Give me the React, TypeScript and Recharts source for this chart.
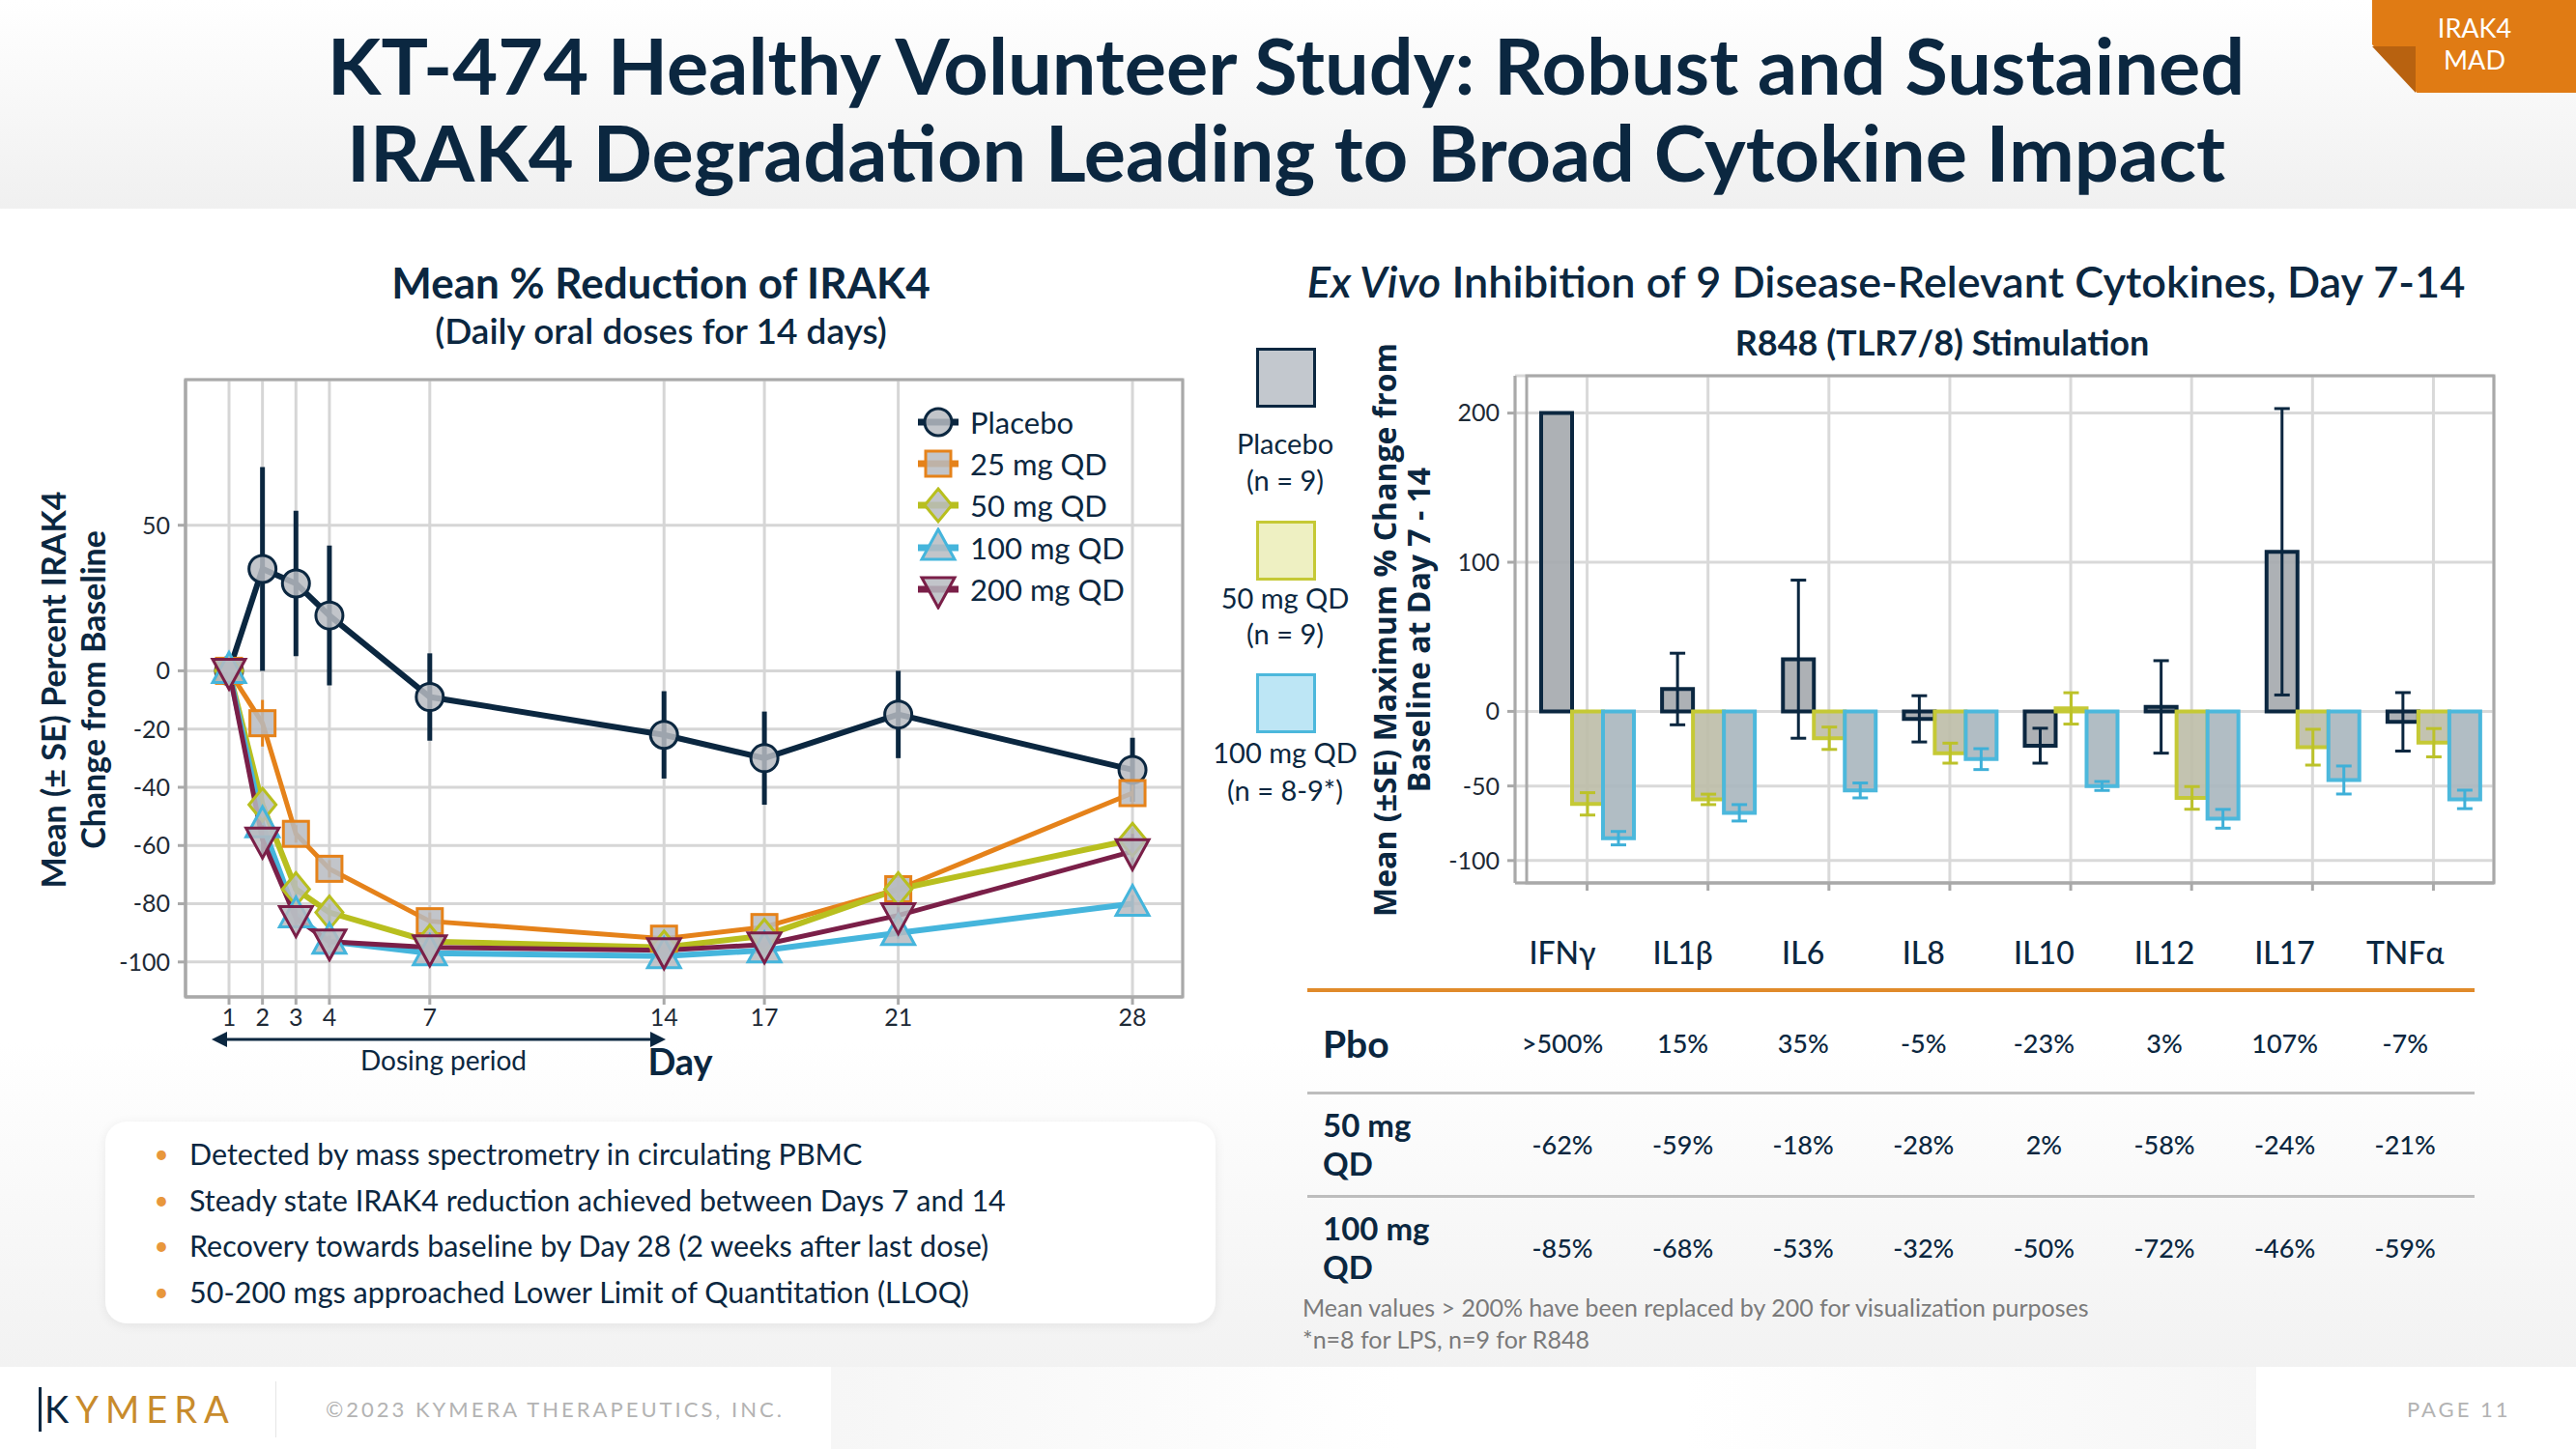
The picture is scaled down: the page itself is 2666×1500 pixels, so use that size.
import React from 'react';
import {
  LineChart,
  Line,
  BarChart,
  Bar,
  XAxis,
  YAxis,
  CartesianGrid,
  ErrorBar,
  ReferenceArea
} from 'recharts';

const NAVY = '#0b2740';
const FONT = 'Lato, "Open Sans", sans-serif';
const MARKER_FILL = '#b7bbc1';

// Left chart: mean % change of IRAK4 by study day
const DAYS = [1, 2, 3, 4, 7, 14, 17, 21, 28];
const PLACEBO = [0, 35, 30, 19, -9, -22, -30, -15, -34];
const PLACEBO_SE = [0, 35, 25, 24, 15, 15, 16, 15, 11];
const MG25 = [0, -18, -56, -68, -86, -92, -88, -75, -42];
const MG25_SE = [0, 8, 3, 3, 3, 2, 3, 3, 4];
const MG50 = [0, -46, -75, -83, -93, -95, -91, -75, -58];
const MG50_SE = [0, 5, 3, 3, 2, 2, 2, 3, 4];
const MG100 = [0, -53, -84, -93, -97, -98, -96, -90, -80];
const MG100_SE = [0, 5, 3, 2, 1, 1, 1, 2, 3];
const MG200 = [0, -58, -85, -93, -95, -96, -94, -84, -62];
const MG200_SE = [0, 5, 3, 2, 2, 1, 2, 3, 6];
const LEFT_Y_TICKS = [50, 0, -20, -40, -60, -80, -100];

// Right chart: max % change of cytokines, day 7-14
const CYTOKINES = ['IFNγ', 'IL1β', 'IL6', 'IL8', 'IL10', 'IL12', 'IL17', 'TNFα'];
const PBO = [200, 15, 35, -5, -23, 3, 107, -7];
const PBO_SE = [0, 24, 53, 15.5, 11.7, 31, 96, 19.6];
const QD50 = [-62, -59, -18, -28, 2, -58, -24, -21];
const QD50_SE = [7.5, 3.5, 7.5, 6.7, 10.5, 7.6, 12, 9.5];
const QD100 = [-85, -68, -53, -32, -50, -72, -46, -59];
const QD100_SE = [4.5, 5.5, 5, 7, 3, 6.3, 9.4, 6.2];
const PBO_LABELS = ['>500%', '15%', '35%', '-5%', '-23%', '3%', '107%', '-7%'];
const RIGHT_Y_TICKS = [200, 100, 0, -50, -100];

const BULLETS = [
  'Detected by mass spectrometry in circulating PBMC',
  'Steady state IRAK4 reduction achieved between Days 7 and 14',
  'Recovery towards baseline by Day 28 (2 weeks after last dose)',
  '50-200 mgs approached Lower Limit of Quantitation (LLOQ)'
];

const SERIES = [
  { key: 'pbo', err: 'pboErr', name: 'Placebo', color: NAVY, shape: 'circle', width: 6, values: PLACEBO, se: PLACEBO_SE },
  { key: 'mg25', err: 'mg25Err', name: '25 mg QD', color: '#e5821a', shape: 'square', width: 5, values: MG25, se: MG25_SE },
  { key: 'mg50', err: 'mg50Err', name: '50 mg QD', color: '#b8bf1f', shape: 'diamond', width: 6, values: MG50, se: MG50_SE },
  { key: 'mg100', err: 'mg100Err', name: '100 mg QD', color: '#45b5dc', shape: 'up', width: 6, values: MG100, se: MG100_SE },
  { key: 'mg200', err: 'mg200Err', name: '200 mg QD', color: '#7a1f48', shape: 'down', width: 5, values: MG200, se: MG200_SE }
];

const lineData = DAYS.map((day, i) => {
  const row: any = { day };
  SERIES.forEach(s => {
    row[s.key] = s.values[i];
    row[s.err] = s.se[i];
  });
  return row;
});

const barData = CYTOKINES.map((name, i) => ({
  name,
  pbo: PBO[i],
  pboErr: PBO_SE[i],
  qd50: QD50[i],
  qd50Err: QD50_SE[i],
  qd100: QD100[i],
  qd100Err: QD100_SE[i]
}));

const Marker = ({ cx, cy, shape, color }: any) => {
  if (cx == null || cy == null) return null;
  const common = { fill: MARKER_FILL, fillOpacity: 0.85, stroke: color, strokeWidth: 3 };
  switch (shape) {
    case 'circle':
      return <circle cx={cx} cy={cy} r={14} {...common} />;
    case 'square':
      return <rect x={cx - 13} y={cy - 13} width={26} height={26} {...common} />;
    case 'diamond':
      return <polygon points={`${cx},${cy - 17} ${cx + 14},${cy} ${cx},${cy + 17} ${cx - 14},${cy}`} {...common} />;
    case 'up':
      return <polygon points={`${cx},${cy - 19} ${cx + 17},${cy + 12} ${cx - 17},${cy + 12}`} {...common} />;
    default:
      return <polygon points={`${cx},${cy + 19} ${cx + 17},${cy - 12} ${cx - 17},${cy - 12}`} {...common} />;
  }
};

// absolutely placed text, centred on (x, y) unless anchor is 'start'
const T = ({ x, y, size, weight = 400, color = NAVY, anchor = 'middle', italic = false, style = {}, children }: any) => (
  <div
    style={{
      position: 'absolute',
      left: x,
      top: y,
      transform: anchor === 'middle' ? 'translate(-50%, -50%)' : 'translate(0, -50%)',
      fontSize: size,
      fontWeight: weight,
      fontStyle: italic ? 'italic' : 'normal',
      color,
      whiteSpace: 'nowrap',
      lineHeight: 1.15,
      fontFamily: FONT,
      ...style
    }}
  >
    {children}
  </div>
);

const LeftLegend = () => (
  <div style={{ position: 'absolute', left: 950, top: 415, fontFamily: FONT }}>
    {SERIES.map(s => (
      <div key={s.key} style={{ display: 'flex', alignItems: 'center', height: 43.3 }}>
        <svg width={42} height={42}>
          <line x1={0} y1={21} x2={42} y2={21} stroke={s.color} strokeWidth={7} />
          <Marker cx={21} cy={21} shape={s.shape} color={s.color} />
        </svg>
        <span style={{ marginLeft: 12, fontSize: 31, color: NAVY }}>{s.name}</span>
      </div>
    ))}
  </div>
);

const RIGHT_LEGEND = [
  { fill: '#c3c8ce', stroke: NAVY, top: 360, l1: 'Placebo', l2: '(n = 9)', y1: 459, y2: 497 },
  { fill: '#eef0c2', stroke: '#c5c935', top: 539, l1: '50 mg QD', l2: '(n = 9)', y1: 619, y2: 656 },
  { fill: '#bde6f5', stroke: '#4cb8dc', top: 697, l1: '100 mg QD', l2: '(n = 8-9*)', y1: 779, y2: 818 }
];

const tickStyle = { fontSize: 25, fill: '#1e2a36', fontFamily: FONT };

const App = () => {
  const colX = (i: number) => 1617 + i * 124.6;
  return (
    <div style={{ position: 'absolute', left: 0, top: 0, width: 2666, height: 1500, background: '#fff', overflow: 'hidden', fontFamily: FONT }}>
      {/* header band */}
      <div style={{ position: 'absolute', left: 0, top: 0, width: 2666, height: 216, background: 'linear-gradient(#ffffff, #f0f0f0)' }} />
      <div style={{ position: 'absolute', left: 0, top: 1080, width: 2666, height: 335, background: 'linear-gradient(#ffffff, #f2f2f2)' }} />
      <div style={{ position: 'absolute', left: 860, top: 1415, width: 1475, height: 85, background: 'linear-gradient(90deg, #f6f6f6, #ffffff 40%, #ffffff 60%, #f6f6f6)' }} />

      {/* orange tag */}
      <div style={{ position: 'absolute', left: 2455, top: 0, width: 211, height: 96, background: '#e07b14', clipPath: 'polygon(0 0, 100% 0, 100% 100%, 22% 100%, 0 48%)' }} />
      <div style={{ position: 'absolute', left: 2455, top: 48, width: 45, height: 48, background: '#b86210', clipPath: 'polygon(0 0, 100% 0, 100% 100%)' }} />
      <T x={2561} y={29} size={27} color="#fff">IRAK4</T>
      <T x={2561} y={62} size={27} color="#fff">MAD</T>

      {/* title */}
      <T x={1331} y={66} size={81} weight={700} style={{ lineHeight: 1 }}>KT-474 Healthy Volunteer Study: Robust and Sustained</T>
      <T x={1331} y={156} size={81} weight={700} style={{ lineHeight: 1 }}>IRAK4 Degradation Leading to Broad Cytokine Impact</T>

      {/* left chart titles */}
      <T x={684} y={292} size={44} weight={700}>Mean % Reduction of IRAK4</T>
      <T x={684} y={342} size={37} weight={600}>(Daily oral doses for 14 days)</T>
      <T x={76} y={714} size={34} weight={700} style={{ transform: 'translate(-50%, -50%) rotate(-90deg)', textAlign: 'center', lineHeight: 1.2 }}>
        Mean (± SE) Percent IRAK4<br />Change from Baseline
      </T>

      <div style={{ position: 'absolute', left: 80, top: 380 }}>
        <LineChart width={1160} height={720} data={lineData} margin={{ top: 13, right: 16, bottom: 18, left: 0 }}>
          <CartesianGrid stroke="#d6d6d6" strokeWidth={3} />
          <ReferenceArea y1={-112} y2={100} fill="none" stroke="#a9a9a9" strokeWidth={3} ifOverflow="visible" />
          <XAxis
            dataKey="day"
            type="number"
            domain={[-0.3, 29.5]}
            ticks={DAYS}
            allowDataOverflow
            height={50}
            tick={tickStyle}
            tickSize={8}
            tickMargin={4}
            stroke="#a9a9a9"
            strokeWidth={3}
            interval={0}
          />
          <YAxis
            type="number"
            domain={[-112, 100]}
            ticks={LEFT_Y_TICKS}
            allowDataOverflow
            width={112}
            tick={tickStyle}
            tickSize={8}
            tickMargin={8}
            stroke="#a9a9a9"
            strokeWidth={3}
            interval={0}
          />
          {SERIES.map(s => (
            <Line
              key={s.key}
              dataKey={s.key}
              stroke={s.color}
              strokeWidth={s.width}
              isAnimationActive={false}
              dot={(p: any) => <Marker key={`${s.key}-${p.index}`} cx={p.cx} cy={p.cy} shape={s.shape} color={s.color} />}
            >
              <ErrorBar dataKey={s.err} width={0} strokeWidth={s.key === 'pbo' ? 5 : 3} stroke={s.color} />
            </Line>
          ))}
        </LineChart>
      </div>
      <LeftLegend />

      {/* dosing period arrow */}
      <svg style={{ position: 'absolute', left: 215, top: 1064 }} width={480} height={24}>
        <line x1={16} y1={12} x2={460} y2={12} stroke={NAVY} strokeWidth={3} />
        <polygon points="4,12 20,4 20,20" fill={NAVY} />
        <polygon points="474,12 458,4 458,20" fill={NAVY} />
      </svg>
      <T x={459} y={1097} size={28}>Dosing period</T>
      <T x={704} y={1099} size={38} weight={700}>Day</T>

      {/* bullets */}
      <div style={{ position: 'absolute', left: 109, top: 1161, width: 1149, height: 209, background: '#fff', borderRadius: 22, boxShadow: '0 2px 12px rgba(0,0,0,0.07)' }} />
      {BULLETS.map((b, i) => (
        <React.Fragment key={b}>
          <T x={167} y={1195 + i * 47.7} size={26} color="#e8973c">•</T>
          <T x={196} y={1195 + i * 47.7} size={30.5} anchor="start">{b}</T>
        </React.Fragment>
      ))}

      {/* right chart titles */}
      <T x={1952} y={292} size={45} weight={600}>
        <i>Ex Vivo</i> Inhibition of 9 Disease-Relevant Cytokines, Day 7-14
      </T>
      <T x={2010} y={355} size={36} weight={700}>R848 (TLR7/8) Stimulation</T>

      {RIGHT_LEGEND.map(l => (
        <React.Fragment key={l.l1}>
          <div style={{ position: 'absolute', left: 1300, top: l.top, width: 56, height: 56, background: l.fill, border: `3px solid ${l.stroke}` }} />
          <T x={1330} y={l.y1} size={29}>{l.l1}</T>
          <T x={1330} y={l.y2} size={29}>{l.l2}</T>
        </React.Fragment>
      ))}

      <T x={1450} y={652} size={32} weight={700} style={{ transform: 'translate(-50%, -50%) rotate(-90deg)', textAlign: 'center', lineHeight: 1.1, fontFamily: '"Open Sans", sans-serif' }}>
        Mean (±SE) Maximum % Change from<br />Baseline at Day 7 - 14
      </T>

      <div style={{ position: 'absolute', left: 1460, top: 370 }}>
        <BarChart width={1140} height={570} data={barData} margin={{ top: 19, right: 19, bottom: 10, left: 0 }} barCategoryGap={15} barGap={0}>
          <CartesianGrid stroke="#d9d9d9" strokeWidth={3} />
          <ReferenceArea y1={-115} y2={225} fill="none" stroke="#a9a9a9" strokeWidth={3} ifOverflow="visible" />
          <XAxis
            dataKey="name"
            padding={{ left: 12, right: 0 }}
            height={16}
            tickFormatter={() => ''}
            tickSize={8}
            stroke="#a9a9a9"
            strokeWidth={3}
            interval={0}
          />
          <YAxis
            type="number"
            domain={[-115, 225]}
            ticks={RIGHT_Y_TICKS}
            allowDataOverflow
            width={108}
            tick={tickStyle}
            tickSize={8}
            tickMargin={8}
            stroke="#a9a9a9"
            strokeWidth={3}
            interval={0}
          />
          <Bar dataKey="pbo" fill="#a4a8ad" fillOpacity={0.9} stroke={NAVY} strokeWidth={4} isAnimationActive={false}>
            <ErrorBar dataKey="pboErr" width={8} strokeWidth={3} stroke={NAVY} />
          </Bar>
          <Bar dataKey="qd50" fill="#bcbca7" fillOpacity={0.9} stroke="#c5c935" strokeWidth={4} isAnimationActive={false}>
            <ErrorBar dataKey="qd50Err" width={8} strokeWidth={3} stroke="#bcc22a" />
          </Bar>
          <Bar dataKey="qd100" fill="#a9b6be" fillOpacity={0.9} stroke="#4cb8dc" strokeWidth={4} isAnimationActive={false}>
            <ErrorBar dataKey="qd100Err" width={8} strokeWidth={3} stroke="#3fb0d8" />
          </Bar>
        </BarChart>
      </div>

      {/* table under right chart */}
      {CYTOKINES.map((c, i) => (
        <T key={c} x={colX(i)} y={986} size={32} weight={500}>{c}</T>
      ))}
      <div style={{ position: 'absolute', left: 1353, top: 1023, width: 1208, height: 4, background: '#e08a2a' }} />
      <div style={{ position: 'absolute', left: 1353, top: 1130, width: 1208, height: 3, background: '#bdbdbd' }} />
      <div style={{ position: 'absolute', left: 1353, top: 1237, width: 1208, height: 3, background: '#bdbdbd' }} />
      <T x={1369} y={1080} size={39} weight={700} anchor="start">Pbo</T>
      <T x={1369} y={1185} size={33} weight={700} anchor="start" style={{ lineHeight: 1.2 }}>50 mg<br />QD</T>
      <T x={1369} y={1292} size={33} weight={700} anchor="start" style={{ lineHeight: 1.2 }}>100 mg<br />QD</T>
      {PBO_LABELS.map((v, i) => (
        <T key={'p' + i} x={colX(i)} y={1080} size={27} weight={500}>{v}</T>
      ))}
      {QD50.map((v, i) => (
        <T key={'a' + i} x={colX(i)} y={1185} size={27} weight={500}>{`${v}%`}</T>
      ))}
      {QD100.map((v, i) => (
        <T key={'b' + i} x={colX(i)} y={1292} size={27} weight={500}>{`${v}%`}</T>
      ))}
      <T x={1348} y={1353} size={25} color="#7a7a7a" anchor="start">Mean values &gt; 200% have been replaced by 200 for visualization purposes</T>
      <T x={1348} y={1386} size={25} color="#7a7a7a" anchor="start">*n=8 for LPS, n=9 for R848</T>

      {/* footer */}
      <div style={{ position: 'absolute', left: 40, top: 1436, width: 3, height: 46, background: NAVY }} />
      <T x={46} y={1459} size={38} anchor="start" color="#c88b2c" style={{ letterSpacing: 7 }}>
        <span style={{ color: NAVY }}>K</span>YMERA
      </T>
      <div style={{ position: 'absolute', left: 285, top: 1430, width: 1, height: 58, background: '#e6e6e6' }} />
      <T x={337} y={1459} size={22} anchor="start" color="#b3b3b3" style={{ letterSpacing: 3 }}>©2023 KYMERA THERAPEUTICS, INC.</T>
      <T x={2491} y={1459} size={22} anchor="start" color="#b3b3b3" style={{ letterSpacing: 3 }}>PAGE 11</T>
    </div>
  );
};

export default App;
